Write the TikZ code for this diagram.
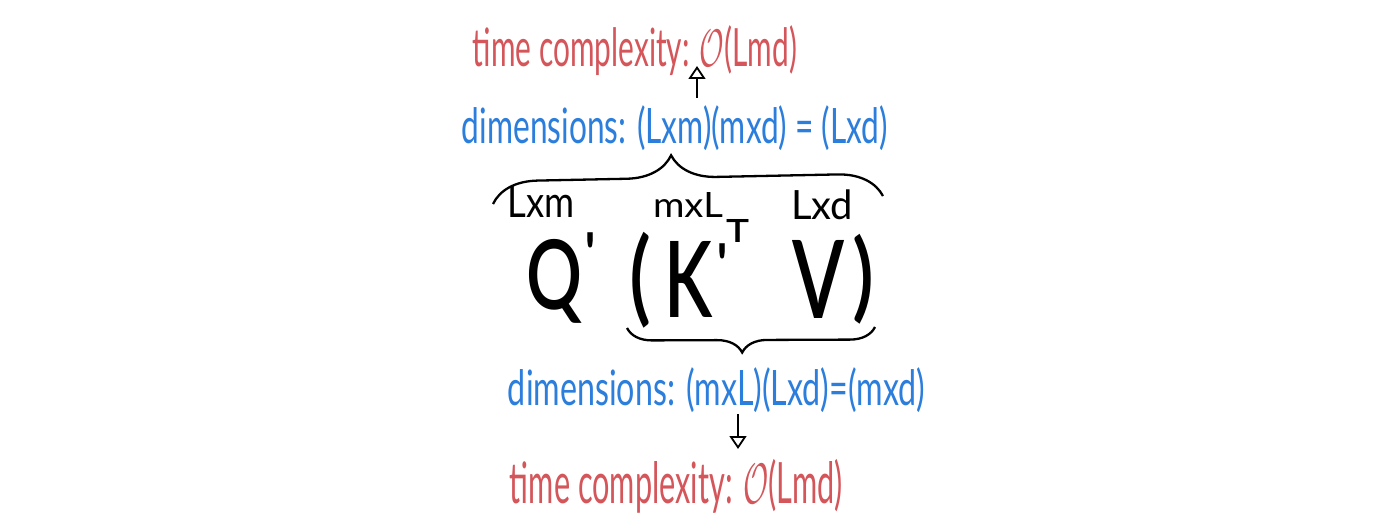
\documentclass[tikz,border=0pt]{standalone}
\usepackage{graphicx}
\usepackage{fontspec}
\setmainfont{Lato}
\IfFontExistsTF{Lato Semibold}{\newfontfamily\bigfont{Lato Semibold}}{\newcommand\bigfont{\bfseries}}
\usetikzlibrary{arrows.meta,decorations.pathreplacing}
\definecolor{hred}{RGB}{212,86,90}
\definecolor{hblue}{RGB}{44,126,220}
\newcommand\fitbox[3]{\resizebox*{#1pt}{#2pt}{#3}}
\newcommand\primeglyph{{\fontsize{58}{58}\selectfont\bigfont\textquotesingle}}
\begin{document}
\begin{tikzpicture}[x=1pt,y=-1pt,
  txt/.style={inner sep=0pt,outer sep=0pt},
  redtxt/.style={txt,text=hred},
  bluetxt/.style={txt,text=hblue},
  blktxt/.style={txt,text=black},
  bigtxt/.style={txt,text=black,font=\bigfont},
  harrow/.style={-{Triangle[open,width=17pt,length=13pt,line width=1.8pt]},line width=1.9pt,black},
  hbrace/.style={decorate,line width=2.3pt,black}]
\fill[white] (0,0) rectangle (1400,532);
\useasboundingbox (0,0) rectangle (1400,532);
% coloured texts
\node[redtxt] (ttop) at (635,51) {\fitbox{324}{50}{time complexity: $\mathcal{O}$(Lmd)}};
\node[bluetxt] (dtop) at (675,128) {\fitbox{426}{45}{dimensions: (Lxm)(mxd) = (Lxd)}};
\node[bluetxt] (dbot) at (716.5,390) {\fitbox{417}{45}{dimensions: (mxL)(Lxd)=(mxd)}};
\node[redtxt] (tbot) at (676.5,486) {\fitbox{333}{54}{time complexity: $\mathcal{O}$(Lmd)}};
% small labels
\node[blktxt] (lq) at (541,202) {\fitbox{67}{31}{Lxm}};
\node[blktxt] (lk) at (688,205) {\fitbox{70}{25}{mxL}};
\node[blktxt] (lv) at (822,205) {\fitbox{62}{30}{Lxd}};
% big formula
\node[bigtxt] (q) at (555,281) {\fitbox{56}{84}{Q}};
\node[txt,anchor=north] (qp) at (591,233) {\primeglyph};
\node[bigtxt] (lp) at (640,280) {\fitbox{22}{96}{(}};
\node[bigtxt] (k) at (689,279.5) {\fitbox{48}{76}{K}};
\node[txt,anchor=north] (kp) at (723,244) {\primeglyph};
\node[bigtxt] (kt) at (737.5,231) {\fitbox{23}{23}{T}};
\node[bigtxt] (v) at (818.5,279) {\fitbox{52}{78}{V}};
\node[bigtxt] (rp) at (863.5,279) {\fitbox{22}{90}{)}};
% arrows
\coordinate (au1) at (697,98);
\coordinate (au2) at (697,66);
\coordinate (ad1) at (738,414);
\coordinate (ad2) at (738,449);
\draw[harrow] (au1) -- (au2);
\draw[harrow] (ad1) -- (ad2);
% braces
\coordinate (bl) at (493,204);
\coordinate (br) at (883,196);
\draw[hbrace,decoration={brace,amplitude=45pt,aspect=0.459}] (bl) -- (br);
\coordinate (bbr) at (875,327);
\coordinate (bbl) at (627,328);
\draw[hbrace,decoration={brace,amplitude=25pt,aspect=0.536}] (bbr) -- (bbl);
\end{tikzpicture}
\end{document}
